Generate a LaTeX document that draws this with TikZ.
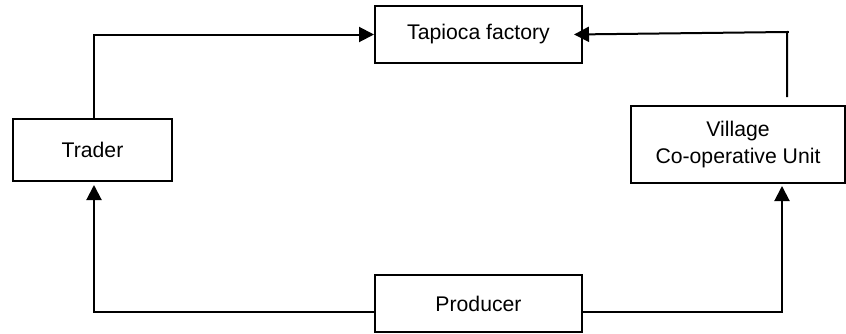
\documentclass[tikz,border=0pt]{standalone}
\usepackage{fontspec}
\setmainfont{Liberation Sans}
\usepackage{tikz}
\usetikzlibrary{positioning,arrows.meta,calc}
\tikzset{
  unitbox/.style={draw,line width=1pt,align=center,inner sep=0pt,
    font=\fontsize{10.6}{13.5}\selectfont},
  flow/.style={line width=1pt,-{Triangle[length=7.5pt,width=7.5pt]}}
}

\begin{document}
\begin{tikzpicture}[x=0.5pt,y=0.5pt]
\useasboundingbox (0,0) rectangle (846,333);
\node[unitbox,minimum width=103.5pt,minimum height=28.5pt] (factory) at (478.5,298.5) {Tapioca factory};
\node[unitbox,minimum width=79.5pt,minimum height=31pt] (trader) at (92.5,183) {Trader};
\node[unitbox,minimum width=107pt,minimum height=38.5pt] (village) at (738,188.5) {Village\\Co-operative Unit};
\node[unitbox,minimum width=103.5pt,minimum height=28.5pt] (producer) at (478.5,29.5) {Producer};
\coordinate (vtop) at ($(village.north)+(49,8)$);
\coordinate (vturn) at ($(vtop)+(0,65)$);
\draw[flow] ($(trader.north)+(1.5,0)$) |- (factory.west);
\draw[line width=1pt] (vturn) -- ++(2,0);
\draw[flow] (vtop) -- (vturn) -- ($(factory.east)+(-9,0)$ |- vturn);
\draw[flow] ($(producer.west)+(0,-8)$) -| ($(trader.south)+(1.5,-3)$);
\draw[flow] ($(producer.east)+(0,-8)$) -| ($(village.south)+(44,-2)$);
\end{tikzpicture}
\end{document}
